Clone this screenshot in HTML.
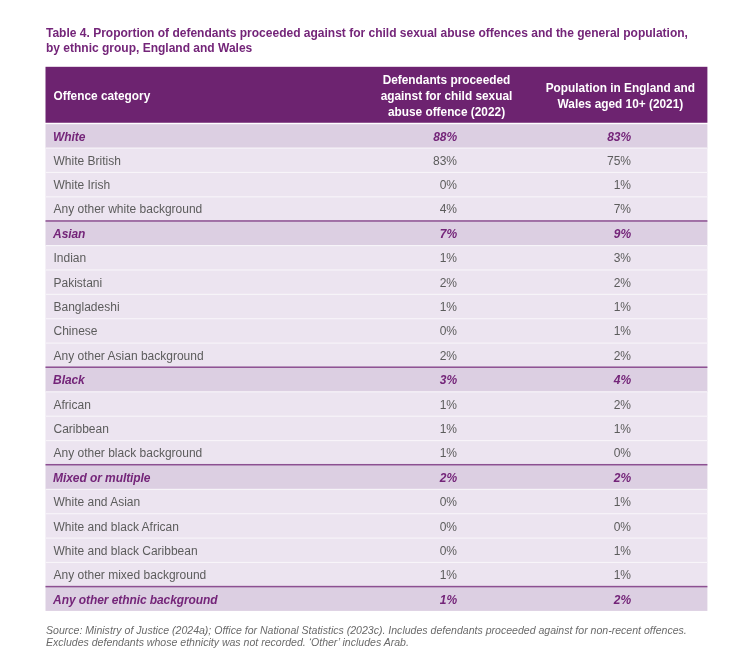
<!DOCTYPE html>
<html><head><meta charset="utf-8"><title>Table 4</title><style>
html,body{margin:0;padding:0;background:#fff;}
body{width:737px;height:670px;position:relative;overflow:hidden;font-family:"Liberation Sans",sans-serif;}
.bg{position:absolute;left:0;top:0;width:737px;height:670px;}
.tx{position:absolute;left:0;top:0;width:737px;height:670px;will-change:transform;}
.tx div{position:absolute;white-space:nowrap;}
.title{left:46px;top:26px;font-size:12px;font-weight:bold;color:#742579;line-height:14.8px;}
.h{color:#fff;font-weight:bold;font-size:11.85px;line-height:15.85px;text-align:center;}
.c{font-size:12px;line-height:12px;color:#5c5c5c;}
.g{font-size:12px;letter-spacing:-0.08px;line-height:12px;color:#742579;font-weight:bold;font-style:italic;}
.n{text-align:right;width:60px;}
.foot{left:46px;top:625px;font-size:10.55px;font-style:italic;color:#6a6a6a;line-height:11.6px;}
</style></head><body>
<svg class="bg" width="737" height="670" viewBox="0 0 737 670">
<rect x="45.5" y="66.8" width="661.90" height="55.95" fill="#6d2370"/>

<rect x="45.5" y="124.195" width="661.90" height="24.150" fill="#dccfe2"/>
<rect x="45.5" y="147.845" width="661.90" height="24.875" fill="#ece4f0"/>
<rect x="45.5" y="172.220" width="661.90" height="24.875" fill="#ece4f0"/>
<rect x="45.5" y="196.595" width="661.90" height="24.875" fill="#ece4f0"/>
<rect x="45.5" y="220.970" width="661.90" height="24.875" fill="#dccfe2"/>
<rect x="45.5" y="245.345" width="661.90" height="24.875" fill="#ece4f0"/>
<rect x="45.5" y="269.720" width="661.90" height="24.875" fill="#ece4f0"/>
<rect x="45.5" y="294.095" width="661.90" height="24.875" fill="#ece4f0"/>
<rect x="45.5" y="318.470" width="661.90" height="24.875" fill="#ece4f0"/>
<rect x="45.5" y="342.845" width="661.90" height="24.875" fill="#ece4f0"/>
<rect x="45.5" y="367.220" width="661.90" height="24.875" fill="#dccfe2"/>
<rect x="45.5" y="391.595" width="661.90" height="24.875" fill="#ece4f0"/>
<rect x="45.5" y="415.970" width="661.90" height="24.875" fill="#ece4f0"/>
<rect x="45.5" y="440.345" width="661.90" height="24.875" fill="#ece4f0"/>
<rect x="45.5" y="464.720" width="661.90" height="24.875" fill="#dccfe2"/>
<rect x="45.5" y="489.095" width="661.90" height="24.875" fill="#ece4f0"/>
<rect x="45.5" y="513.470" width="661.90" height="24.875" fill="#ece4f0"/>
<rect x="45.5" y="537.845" width="661.90" height="24.875" fill="#ece4f0"/>
<rect x="45.5" y="562.220" width="661.90" height="24.875" fill="#ece4f0"/>
<rect x="45.5" y="586.595" width="661.90" height="24.305" fill="#dccfe2"/>
<rect x="45.5" y="147.545" width="661.90" height="1.100" fill="#f8f5f9"/>
<rect x="45.5" y="171.920" width="661.90" height="1.100" fill="#f8f5f9"/>
<rect x="45.5" y="196.295" width="661.90" height="1.100" fill="#f8f5f9"/>
<rect x="45.5" y="220.220" width="661.90" height="1.500" fill="#8c5091"/>
<rect x="45.5" y="245.045" width="661.90" height="1.100" fill="#f8f5f9"/>
<rect x="45.5" y="269.420" width="661.90" height="1.100" fill="#f8f5f9"/>
<rect x="45.5" y="293.795" width="661.90" height="1.100" fill="#f8f5f9"/>
<rect x="45.5" y="318.170" width="661.90" height="1.100" fill="#f8f5f9"/>
<rect x="45.5" y="342.545" width="661.90" height="1.100" fill="#f8f5f9"/>
<rect x="45.5" y="366.470" width="661.90" height="1.500" fill="#8c5091"/>
<rect x="45.5" y="391.295" width="661.90" height="1.100" fill="#f8f5f9"/>
<rect x="45.5" y="415.670" width="661.90" height="1.100" fill="#f8f5f9"/>
<rect x="45.5" y="440.045" width="661.90" height="1.100" fill="#f8f5f9"/>
<rect x="45.5" y="463.970" width="661.90" height="1.500" fill="#8c5091"/>
<rect x="45.5" y="488.795" width="661.90" height="1.100" fill="#f8f5f9"/>
<rect x="45.5" y="513.170" width="661.90" height="1.100" fill="#f8f5f9"/>
<rect x="45.5" y="537.545" width="661.90" height="1.100" fill="#f8f5f9"/>
<rect x="45.5" y="561.920" width="661.90" height="1.100" fill="#f8f5f9"/>
<rect x="45.5" y="585.845" width="661.90" height="1.500" fill="#8c5091"/>
</svg>
<div class="tx">
<div class="title">Table 4. Proportion of defendants proceeded against for child sexual abuse offences and the general population,<br>by ethnic group, England and Wales</div>
<div class="h" style="left:53.5px;top:89px;text-align:left;">Offence category</div>
<div class="h" style="left:366.5px;width:160px;top:73px;">Defendants proceeded<br>against for child sexual<br>abuse offence (2022)</div>
<div class="h" style="left:530.4px;width:180px;top:80.4px;line-height:16px;">Population in England and<br>Wales aged 10+ (2021)</div>
<div class="g" style="left:53.1px;top:131.34px;">White</div><div class="g n" style="left:397px;top:131.34px;">88%</div><div class="g n" style="left:571px;top:131.34px;">83%</div>
<div class="c" style="left:53.5px;top:154.72px;">White British</div><div class="c n" style="left:397px;top:154.72px;">83%</div><div class="c n" style="left:571px;top:154.72px;">75%</div>
<div class="c" style="left:53.5px;top:179.09px;">White Irish</div><div class="c n" style="left:397px;top:179.09px;">0%</div><div class="c n" style="left:571px;top:179.09px;">1%</div>
<div class="c" style="left:53.5px;top:203.47px;">Any other white background</div><div class="c n" style="left:397px;top:203.47px;">4%</div><div class="c n" style="left:571px;top:203.47px;">7%</div>
<div class="g" style="left:53.1px;top:227.84px;">Asian</div><div class="g n" style="left:397px;top:227.84px;">7%</div><div class="g n" style="left:571px;top:227.84px;">9%</div>
<div class="c" style="left:53.5px;top:252.22px;">Indian</div><div class="c n" style="left:397px;top:252.22px;">1%</div><div class="c n" style="left:571px;top:252.22px;">3%</div>
<div class="c" style="left:53.5px;top:276.59px;">Pakistani</div><div class="c n" style="left:397px;top:276.59px;">2%</div><div class="c n" style="left:571px;top:276.59px;">2%</div>
<div class="c" style="left:53.5px;top:300.97px;">Bangladeshi</div><div class="c n" style="left:397px;top:300.97px;">1%</div><div class="c n" style="left:571px;top:300.97px;">1%</div>
<div class="c" style="left:53.5px;top:325.34px;">Chinese</div><div class="c n" style="left:397px;top:325.34px;">0%</div><div class="c n" style="left:571px;top:325.34px;">1%</div>
<div class="c" style="left:53.5px;top:349.72px;">Any other Asian background</div><div class="c n" style="left:397px;top:349.72px;">2%</div><div class="c n" style="left:571px;top:349.72px;">2%</div>
<div class="g" style="left:53.1px;top:374.29px;">Black</div><div class="g n" style="left:397px;top:374.29px;">3%</div><div class="g n" style="left:571px;top:374.29px;">4%</div>
<div class="c" style="left:53.5px;top:399.47px;">African</div><div class="c n" style="left:397px;top:399.47px;">1%</div><div class="c n" style="left:571px;top:399.47px;">2%</div>
<div class="c" style="left:53.5px;top:422.84px;">Caribbean</div><div class="c n" style="left:397px;top:422.84px;">1%</div><div class="c n" style="left:571px;top:422.84px;">1%</div>
<div class="c" style="left:53.5px;top:447.22px;">Any other black background</div><div class="c n" style="left:397px;top:447.22px;">1%</div><div class="c n" style="left:571px;top:447.22px;">0%</div>
<div class="g" style="left:53.1px;top:471.59px;">Mixed or multiple</div><div class="g n" style="left:397px;top:471.59px;">2%</div><div class="g n" style="left:571px;top:471.59px;">2%</div>
<div class="c" style="left:53.5px;top:495.97px;">White and Asian</div><div class="c n" style="left:397px;top:495.97px;">0%</div><div class="c n" style="left:571px;top:495.97px;">1%</div>
<div class="c" style="left:53.5px;top:521.34px;">White and black African</div><div class="c n" style="left:397px;top:521.34px;">0%</div><div class="c n" style="left:571px;top:521.34px;">0%</div>
<div class="c" style="left:53.5px;top:544.72px;">White and black Caribbean</div><div class="c n" style="left:397px;top:544.72px;">0%</div><div class="c n" style="left:571px;top:544.72px;">1%</div>
<div class="c" style="left:53.5px;top:569.09px;">Any other mixed background</div><div class="c n" style="left:397px;top:569.09px;">1%</div><div class="c n" style="left:571px;top:569.09px;">1%</div>
<div class="g" style="left:53.1px;top:594.47px;">Any other ethnic background</div><div class="g n" style="left:397px;top:594.47px;">1%</div><div class="g n" style="left:571px;top:594.47px;">2%</div>
<div class="foot">Source: Ministry of Justice (2024a); Office for National Statistics (2023c). Includes defendants proceeded against for non-recent offences.<br>Excludes defendants whose ethnicity was not recorded. ‘Other’ includes Arab.</div>
</div>
</body></html>
